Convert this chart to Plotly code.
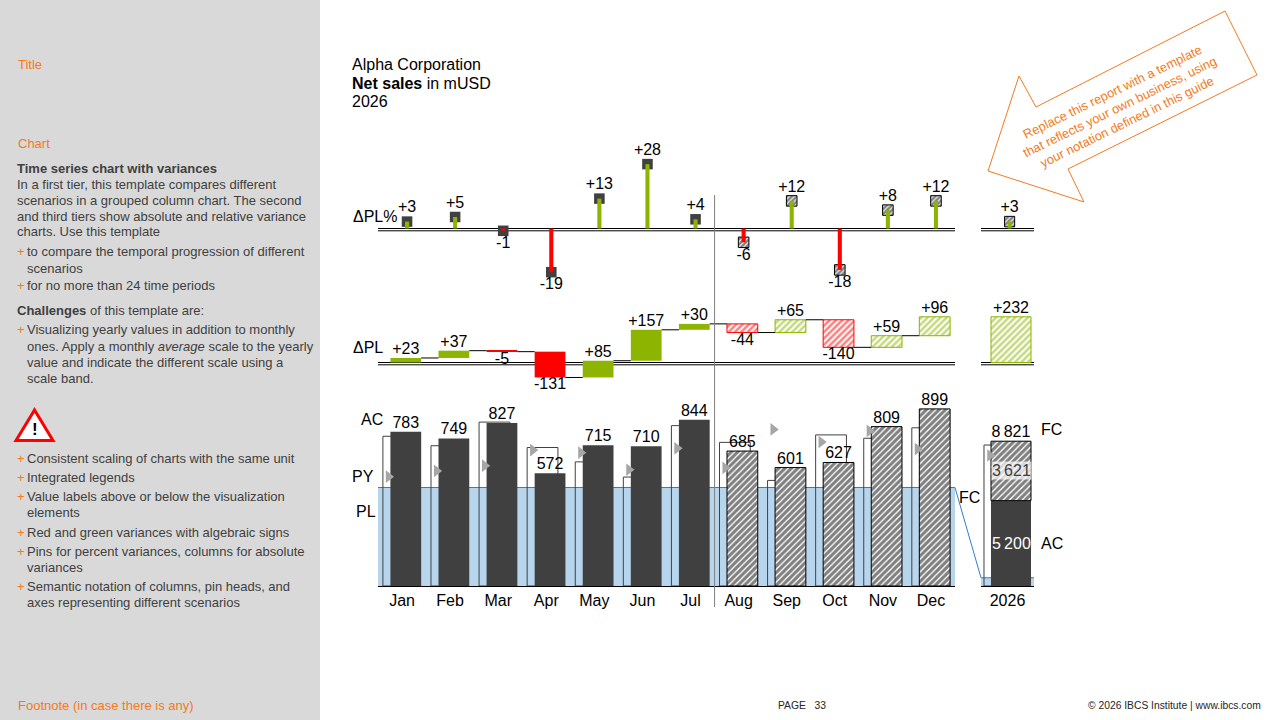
"""IBCS time series chart with variances (AC/FC vs PL), rebuilt in Plotly."""
import numpy as np
import plotly.graph_objects as go

W, H = 1280, 720
FONT = "Liberation Sans, Arial, sans-serif"

# --- data -----------------------------------------------------------------
MONTHS = ["Jan", "Feb", "Mar", "Apr", "May", "Jun", "Jul", "Aug", "Sep", "Oct", "Nov", "Dec"]
N_ACTUAL = 7  # Jan-Jul actual, Aug-Dec forecast
AC_FC = [783, 749, 827, 572, 715, 710, 844, 685, 601, 627, 809, 899]
PL = [760, 712, 832, 703, 630, 553, 814, 729, 536, 767, 750, 803]
PY = [555, 584, 611, 690, 677, 590, 699, 600, 795, 731, 787, 695]
DELTA_PL = [23, 37, -5, -131, 85, 157, 30, -44, 65, -140, 59, 96]
DELTA_PL_PCT = [3, 5, -1, -19, 13, 28, 4, -6, 12, -18, 8, 12]
SCALE_BAND = 500

YEAR = "2026"
YEAR_AC = 5200
YEAR_FC = 3621
YEAR_PL = 8589
YEAR_PY = 7950
YEAR_DELTA_PL = 232
YEAR_DELTA_PL_PCT = 3

# --- look -----------------------------------------------------------------
DARK = "#404040"
GREEN = "#8CB400"
RED = "#FF0000"
PY_GREY = "#A6A6A6"
BAND_FILL = "#B7D6EE"
BAND_LINE = "#2E7FCB"
ORANGE = "#F47A20"
TEXT = "#404040"
PANEL = "#D9D9D9"

# slide geometry in pixels
U = 0.197          # px per mUSD on the monthly scale (variances use it too)
P = 2.3            # px per percentage point
BASE_Y, MAIN_TOP = 586, 398
DPL_ZERO, DPL_TOP = 362.5, 288
PCT_ZERO, PCT_TOP = 228.5, 140
MONTH_X = (378, 955)
YEAR_X = (981, 1034)

AC_OFF, PL_OFF, PY_OFF, PIN_OFF = 0.078, -0.078, -0.28, 0.104
BAR_W, STEM_W, HEAD_W = 0.64, 0.085, 0.22
YR_AC_OFF, YR_PL_OFF, YR_PY_OFF, YR_PIN_OFF = 0.066, -0.066, -0.33, 0.04
YR_BAR_W, YR_STEM_W, YR_HEAD_W = 0.755, 0.075, 0.19
HEAD_H = 10.5 / P  # pin head height in % units

HATCH = dict(shape="/", fgcolor="black", bgcolor="white", size=4.5, solidity=0.7)


def px_x(x):
    return x / W


def px_y(y):
    return 1 - y / H


def fmt_k(v):
    return f"{v:,}".replace(",", "\u2009")


def signed(v):
    return f"{v:+d}"


def var_color(v):
    return GREEN if v >= 0 else RED


def labels(x, y, texts, pos, xa, ya, color="black"):
    return go.Scatter(
        x=x, y=y, text=texts, mode="text", textposition=pos,
        textfont=dict(size=16, color=color, family=FONT),
        cliponaxis=False, hoverinfo="skip", xaxis=xa, yaxis=ya,
    )


def note(x, y, text, size=16, color="black", anchor="left", **kw):
    return dict(
        x=px_x(x), y=px_y(y), xref="paper", yref="paper", text=text,
        showarrow=False, xanchor=anchor, yanchor="middle",
        font=dict(size=size, color=color, family=FONT), **kw,
    )


fig = go.Figure()
idx = np.arange(len(MONTHS))
act, fct = idx[:N_ACTUAL], idx[N_ACTUAL:]
ac_fc = np.array(AC_FC)

# --- tier 1: AC/FC columns with PL outline and PY triangles ---------------
fig.add_trace(go.Bar(x=idx + PL_OFF, y=PL, width=BAR_W, xaxis="x", yaxis="y",
                     marker=dict(color="rgba(0,0,0,0)", line=dict(color=DARK, width=1))))
fig.add_trace(go.Bar(x=act + AC_OFF, y=ac_fc[act], width=BAR_W, xaxis="x", yaxis="y",
                     marker=dict(color=DARK, line=dict(width=0))))
fig.add_trace(go.Bar(x=fct + AC_OFF, y=ac_fc[fct], width=BAR_W, xaxis="x", yaxis="y",
                     marker=dict(color="white", pattern=HATCH, line=dict(color="black", width=1))))
fig.add_trace(go.Scatter(x=idx + PY_OFF, y=PY, mode="markers", xaxis="x", yaxis="y",
                         marker=dict(symbol="triangle-right", size=11, color=PY_GREY)))
fig.add_trace(labels(idx + AC_OFF, AC_FC, [str(v) for v in AC_FC], "top center", "x", "y"))

# year column on a monthly-average scale
fig.add_trace(go.Bar(x=[YR_PL_OFF], y=[YEAR_PL], width=YR_BAR_W, xaxis="x4", yaxis="y4",
                     marker=dict(color="rgba(0,0,0,0)", line=dict(color=DARK, width=1))))
fig.add_trace(go.Bar(x=[YR_AC_OFF], y=[YEAR_AC], width=YR_BAR_W, xaxis="x4", yaxis="y4",
                     marker=dict(color=DARK, line=dict(width=0))))
fig.add_trace(go.Bar(x=[YR_AC_OFF], y=[YEAR_FC], base=[YEAR_AC], width=YR_BAR_W, xaxis="x4", yaxis="y4",
                     marker=dict(color="white", pattern=HATCH, line=dict(color="black", width=1))))
fig.add_trace(go.Scatter(x=[YR_PY_OFF], y=[YEAR_PY], mode="markers", xaxis="x4", yaxis="y4",
                         marker=dict(symbol="triangle-right", size=11, color=PY_GREY)))
fig.add_trace(labels([YR_AC_OFF], [YEAR_AC + YEAR_FC], [fmt_k(YEAR_AC + YEAR_FC)],
                     "top center", "x4", "y4"))

# --- tier 2: absolute variance waterfall ----------------------------------
dpl = np.array(DELTA_PL)
ends = np.cumsum(dpl)
starts = ends - dpl
dcol = [var_color(v) for v in DELTA_PL]
var_hatch = dict(shape="/", bgcolor="white", size=4.5, solidity=0.55)
fig.add_trace(go.Bar(x=act + AC_OFF, y=dpl[act], base=starts[act], width=BAR_W, xaxis="x2", yaxis="y2",
                     marker=dict(color=[dcol[i] for i in act], line=dict(width=0))))
fig.add_trace(go.Bar(
    x=fct + AC_OFF, y=dpl[fct], base=starts[fct], width=BAR_W, xaxis="x2", yaxis="y2",
    marker=dict(color="white", line=dict(color=[dcol[i] for i in fct], width=1),
                pattern=dict(var_hatch, fgcolor=[dcol[i] for i in fct])),
))
cx, cy = [], []
for i in range(len(MONTHS) - 1):
    cx += [i + AC_OFF + BAR_W / 2, i + 1 + AC_OFF - BAR_W / 2, None]
    cy += [ends[i], ends[i], None]
fig.add_trace(go.Scatter(x=cx, y=cy, mode="lines", line=dict(color="black", width=1),
                         xaxis="x2", yaxis="y2", hoverinfo="skip"))
fig.add_trace(labels(idx + AC_OFF, ends, [signed(v) for v in DELTA_PL],
                     ["top center" if v >= 0 else "bottom center" for v in DELTA_PL], "x2", "y2"))

fig.add_trace(go.Bar(
    x=[YR_AC_OFF], y=[YEAR_DELTA_PL], width=YR_BAR_W, xaxis="x5", yaxis="y5",
    marker=dict(color="white", line=dict(color=var_color(YEAR_DELTA_PL), width=1),
                pattern=dict(var_hatch, fgcolor=var_color(YEAR_DELTA_PL))),
))
fig.add_trace(labels([YR_AC_OFF], [YEAR_DELTA_PL], [signed(YEAR_DELTA_PL)], "top center", "x5", "y5"))

# --- tier 3: relative variance pins ---------------------------------------
pct = np.array(DELTA_PL_PCT)
fig.add_trace(go.Bar(x=act + PIN_OFF, y=[HEAD_H] * len(act), base=pct[act] - HEAD_H / 2, width=HEAD_W,
                     xaxis="x3", yaxis="y3", marker=dict(color=DARK, line=dict(width=0))))
fig.add_trace(go.Bar(x=fct + PIN_OFF, y=[HEAD_H] * len(fct), base=pct[fct] - HEAD_H / 2, width=HEAD_W,
                     xaxis="x3", yaxis="y3",
                     marker=dict(color="white", line=dict(color="black", width=1),
                                 pattern=dict(HATCH, size=3.5))))
fig.add_trace(go.Bar(x=idx + PIN_OFF, y=pct, width=STEM_W, xaxis="x3", yaxis="y3",
                     marker=dict(color=[var_color(v) for v in DELTA_PL_PCT], line=dict(width=0))))
fig.add_trace(labels(idx + PIN_OFF, pct + np.sign(pct) * HEAD_H / 2, [signed(v) for v in DELTA_PL_PCT],
                     ["top center" if v >= 0 else "bottom center" for v in DELTA_PL_PCT], "x3", "y3"))

fig.add_trace(go.Bar(x=[YR_PIN_OFF], y=[HEAD_H], base=[YEAR_DELTA_PL_PCT - HEAD_H / 2], width=YR_HEAD_W,
                     xaxis="x6", yaxis="y6",
                     marker=dict(color="white", line=dict(color="black", width=1),
                                 pattern=dict(HATCH, size=3.5))))
fig.add_trace(go.Bar(x=[YR_PIN_OFF], y=[YEAR_DELTA_PL_PCT], width=YR_STEM_W, xaxis="x6", yaxis="y6",
                     marker=dict(color=var_color(YEAR_DELTA_PL_PCT), line=dict(width=0))))
fig.add_trace(labels([YR_PIN_OFF], [YEAR_DELTA_PL_PCT + HEAD_H / 2], [signed(YEAR_DELTA_PL_PCT)],
                     "top center", "x6", "y6"))

# --- axes -----------------------------------------------------------------
xm = [px_x(MONTH_X[0]), px_x(MONTH_X[1])]
xy = [px_x(YEAR_X[0]), px_x(YEAR_X[1])]
main_rng = [0, (BASE_Y - MAIN_TOP) / U]
dpl_rng = [-(MAIN_TOP - DPL_ZERO) / U, (DPL_ZERO - DPL_TOP) / U]
pct_rng = [-(DPL_TOP - PCT_ZERO) / P, (PCT_ZERO - PCT_TOP) / P]
dom_main = [px_y(BASE_Y), px_y(MAIN_TOP)]
dom_dpl = [px_y(MAIN_TOP), px_y(DPL_TOP)]
dom_pct = [px_y(DPL_TOP), px_y(PCT_TOP)]

tick_axis = dict(showline=True, linecolor="black", linewidth=1, ticks="", showgrid=False,
                 zeroline=False, tickfont=dict(size=16, color="black", family=FONT))
hidden = dict(visible=False, showgrid=False, zeroline=False)

fig.update_layout(
    xaxis=dict(tick_axis, domain=xm, range=[-0.5, 11.5], anchor="y", tickvals=idx, ticktext=MONTHS),
    yaxis=dict(hidden, domain=dom_main, range=main_rng, anchor="x"),
    xaxis2=dict(hidden, domain=xm, range=[-0.5, 11.5], anchor="y2"),
    yaxis2=dict(hidden, domain=dom_dpl, range=dpl_rng, anchor="x2"),
    xaxis3=dict(hidden, domain=xm, range=[-0.5, 11.5], anchor="y3"),
    yaxis3=dict(hidden, domain=dom_pct, range=pct_rng, anchor="x3"),
    xaxis4=dict(tick_axis, domain=xy, range=[-0.5, 0.5], anchor="y4", tickvals=[0], ticktext=[YEAR]),
    yaxis4=dict(hidden, domain=dom_main, range=[main_rng[0] * 12, main_rng[1] * 12], anchor="x4"),
    xaxis5=dict(hidden, domain=xy, range=[-0.5, 0.5], anchor="y5"),
    yaxis5=dict(hidden, domain=dom_dpl, range=dpl_rng, anchor="x5"),
    xaxis6=dict(hidden, domain=xy, range=[-0.5, 0.5], anchor="y6"),
    yaxis6=dict(hidden, domain=dom_pct, range=pct_rng, anchor="x6"),
)

# --- shapes ---------------------------------------------------------------
shapes = [
    dict(type="rect", xref="paper", yref="paper", x0=0, x1=px_x(320), y0=0, y1=1,
         fillcolor=PANEL, line=dict(width=0), layer="below"),
]
# scale band (same value on monthly and yearly scale)
for xa, ya in (("x", "y"), ("x4", "y4")):
    shapes.append(dict(type="rect", xref=f"{xa} domain", yref=ya, x0=0, x1=1, y0=0, y1=SCALE_BAND,
                       fillcolor=BAND_FILL, line=dict(width=0), layer="below"))
    shapes.append(dict(type="line", xref=f"{xa} domain", yref=ya, x0=0, x1=1, y0=SCALE_BAND,
                       y1=SCALE_BAND, line=dict(color=BAND_LINE, width=1), layer="below"))
shapes.append(dict(type="line", xref="paper", yref="paper",
                   x0=px_x(MONTH_X[1]), y0=px_y(BASE_Y - SCALE_BAND * U),
                   x1=px_x(YEAR_X[0]), y1=px_y(BASE_Y - SCALE_BAND * U / 12),
                   line=dict(color=BAND_LINE, width=1)))
# double axis lines of the variance tiers
for xa, ya, scale in (("x2", "y2", U), ("x5", "y5", U), ("x3", "y3", P), ("x6", "y6", P)):
    for off in (0, -2.3 / scale):
        shapes.append(dict(type="line", xref=f"{xa} domain", yref=ya, x0=0, x1=1, y0=off, y1=off,
                           line=dict(color="black", width=1), layer="below"))
# actual / forecast separator
shapes.append(dict(type="line", xref="x", yref="paper", x0=N_ACTUAL - 0.5, x1=N_ACTUAL - 0.5,
                   y0=px_y(607), y1=px_y(195), line=dict(color="#7F7F7F", width=1)))
# warning sign
tri = [(34.5, 410), (16, 440.5), (53, 440.5)]
shapes.append(dict(type="path", xref="paper", yref="paper",
                   path="M " + " L ".join(f"{px_x(a)},{px_y(b)}" for a, b in tri) + " Z",
                   fillcolor="white", line=dict(color="#FF0000", width=3)))
# orange callout arrow
arrow = [(1225, 11), (1257, 75), (1068, 169), (1084, 202), (988, 171), (1019, 76), (1036, 107)]
shapes.append(dict(type="path", xref="paper", yref="paper",
                   path="M " + " L ".join(f"{px_x(a)},{px_y(b)}" for a, b in arrow) + " Z",
                   fillcolor="white", line=dict(color=ORANGE, width=1)))

# --- annotations ----------------------------------------------------------
ann = [
    note(350, 64, "Alpha Corporation"),
    note(350, 83, "<b>Net sales</b> in mUSD"),
    note(350, 102, "2026"),
    note(351, 216, "ΔPL%"),
    note(351, 347, "ΔPL"),
    note(385, 419, "AC", anchor="right"),
    note(376, 476, "PY", anchor="right"),
    note(378, 511, "PL", anchor="right"),
    note(1039, 429, "FC"),
    note(1039, 543, "AC"),
    note(957, 497, "FC"),
    dict(x=YR_AC_OFF, y=YEAR_AC / 2, xref="x4", yref="y4", text=fmt_k(YEAR_AC), showarrow=False,
         font=dict(size=16, color="white", family=FONT)),
    dict(x=YR_AC_OFF, y=YEAR_AC + YEAR_FC / 2, xref="x4", yref="y4", text=fmt_k(YEAR_FC),
         showarrow=False, bgcolor="rgba(255,255,255,0.7)", borderpad=0,
         font=dict(size=16, color=DARK, family=FONT)),
    note(1119, 107, "Replace this report with a template<br>that reflects your own business, using"
         "<br>your notation defined in this guide", size=12.8, color=ORANGE, anchor="center",
         textangle=-26),
    note(34.5, 429, "<b>!</b>", size=17, anchor="center"),
    note(16, 64, "Title", size=13, color=ORANGE),
    note(16, 144, "Chart", size=13, color=ORANGE),
    note(16, 705, "Footnote (in case there is any)", size=13, color=ORANGE),
    note(776, 705, "PAGE&nbsp;&nbsp;&nbsp;33", size=10.3, color="#262626"),
    note(1263, 705, "© 2026 IBCS Institute | www.ibcs.com", size=10.3, color="#262626", anchor="right"),
]

PANEL_LINES = [
    (168, "<b>Time series chart with variances</b>", ""),
    (184, "In a first tier, this template compares different", ""),
    (200, "scenarios in a grouped column chart. The second", ""),
    (216, "and third tiers show absolute and relative variance", ""),
    (232, "charts. Use this template", ""),
    (252, "to compare the temporal progression of different", "+"),
    (268, "scenarios", " "),
    (286, "for no more than 24 time periods", "+"),
    (310, "<b>Challenges</b> of this template are:", ""),
    (330, "Visualizing yearly values in addition to monthly", "+"),
    (346, "ones. Apply a monthly <i>average</i> scale to the yearly", " "),
    (362, "value and indicate the different scale using a", " "),
    (378, "scale band.", " "),
    (458, "Consistent scaling of charts with the same unit", "+"),
    (477, "Integrated legends", "+"),
    (496, "Value labels above or below the visualization", "+"),
    (512, "elements", " "),
    (532, "Red and green variances with algebraic signs", "+"),
    (551, "Pins for percent variances, columns for absolute", "+"),
    (567, "variances", " "),
    (586, "Semantic notation of columns, pin heads, and", "+"),
    (602, "axes representing different scenarios", " "),
]
for y, text, bullet in PANEL_LINES:
    if bullet == "+":
        ann.append(note(15, y, "+", size=13, color=ORANGE))
    ann.append(note(25 if bullet else 15, y, text, size=13, color=TEXT))

fig.update_layout(
    width=W, height=H, margin=dict(l=0, r=0, t=0, b=0),
    paper_bgcolor="white", plot_bgcolor="rgba(0,0,0,0)",
    barmode="overlay", showlegend=False, hovermode=False,
    font=dict(family=FONT, color="black"),
    shapes=shapes, annotations=ann,
)

# the page body keeps its default 8px margin otherwise
fig.write_html("out.html", config={"displayModeBar": False},
               post_script="document.body.style.margin = '0';")
